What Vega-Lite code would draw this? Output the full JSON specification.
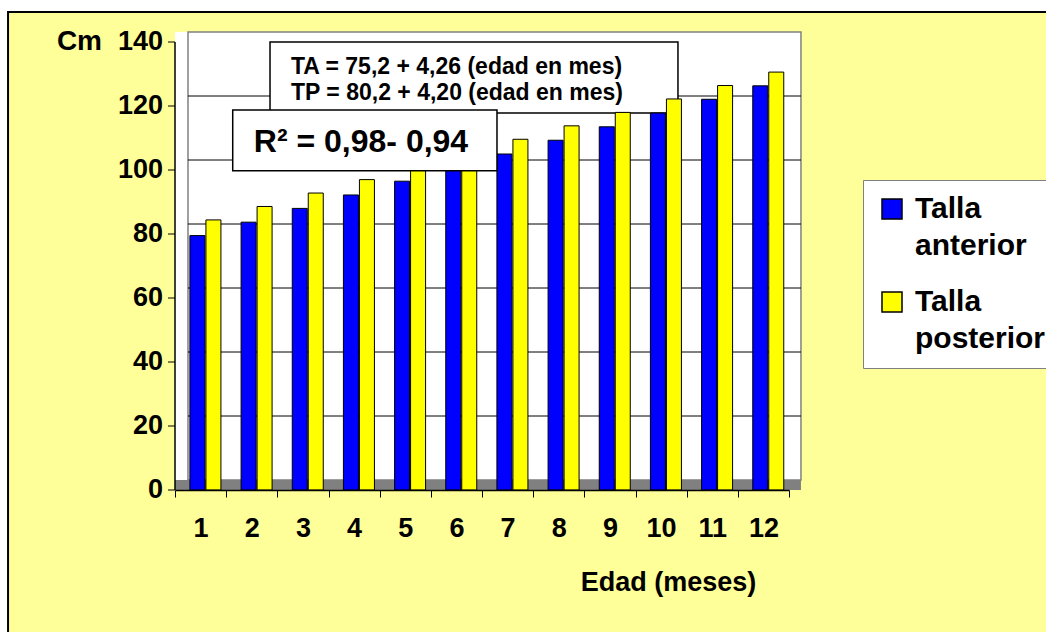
{
  "$schema": "https://vega.github.io/schema/vega-lite/v6.json",
  "width": 628,
  "height": 458,
  "autosize": "none",
  "padding": {"left": 175, "top": 32, "right": 243, "bottom": 142},
  "background": "white",
  "config": {
    "view": {"stroke": null},
    "font": "Liberation Sans",
    "text": {"font": "Liberation Sans", "fontWeight": "bold", "color": "black"}
  },
  "datasets": {
    "tallas": [
      {"mes": 1, "serie": "Talla anterior", "talla": 79.5},
      {"mes": 1, "serie": "Talla posterior", "talla": 84.4},
      {"mes": 2, "serie": "Talla anterior", "talla": 83.7},
      {"mes": 2, "serie": "Talla posterior", "talla": 88.6},
      {"mes": 3, "serie": "Talla anterior", "talla": 88.0},
      {"mes": 3, "serie": "Talla posterior", "talla": 92.8},
      {"mes": 4, "serie": "Talla anterior", "talla": 92.2},
      {"mes": 4, "serie": "Talla posterior", "talla": 97.0},
      {"mes": 5, "serie": "Talla anterior", "talla": 96.5},
      {"mes": 5, "serie": "Talla posterior", "talla": 101.2},
      {"mes": 6, "serie": "Talla anterior", "talla": 100.8},
      {"mes": 6, "serie": "Talla posterior", "talla": 105.4},
      {"mes": 7, "serie": "Talla anterior", "talla": 105.0},
      {"mes": 7, "serie": "Talla posterior", "talla": 109.6},
      {"mes": 8, "serie": "Talla anterior", "talla": 109.3},
      {"mes": 8, "serie": "Talla posterior", "talla": 113.8},
      {"mes": 9, "serie": "Talla anterior", "talla": 113.5},
      {"mes": 9, "serie": "Talla posterior", "talla": 118.0},
      {"mes": 10, "serie": "Talla anterior", "talla": 117.8},
      {"mes": 10, "serie": "Talla posterior", "talla": 122.2},
      {"mes": 11, "serie": "Talla anterior", "talla": 122.1},
      {"mes": 11, "serie": "Talla posterior", "talla": 126.4},
      {"mes": 12, "serie": "Talla anterior", "talla": 126.3},
      {"mes": 12, "serie": "Talla posterior", "talla": 130.6}
    ],
    "grid": [{"v": 20}, {"v": 40}, {"v": 60}, {"v": 80}, {"v": 100}, {"v": 120}],
    "marcas": [{"v": 0}, {"v": 20}, {"v": 40}, {"v": 60}, {"v": 80}, {"v": 100}, {"v": 120}, {"v": 140}],
    "uno": [{}]
  },
  "layer": [
    {
      "data": {"name": "uno"},
      "layer": [
        {
          "mark": {"type": "rect", "fill": "#FFFF99", "stroke": "black", "strokeWidth": 2},
          "encoding": {
            "x": {"datum": -3.263, "type": "quantitative", "scale": {"domain": [0, 12], "range": [0, 614]}, "axis": null},
            "x2": {"datum": 30},
            "y": {"datum": 149.375, "type": "quantitative", "scale": {"domain": [0, 143.125], "nice": false, "zero": false}, "axis": null},
            "y2": {"datum": -80}
          }
        },
        {
          "mark": {"type": "rect", "fill": "white"},
          "encoding": {
            "x": {"datum": 0, "type": "quantitative", "axis": null},
            "x2": {"datum": 12.234},
            "y": {"datum": 0, "type": "quantitative", "axis": null},
            "y2": {"datum": 143.125}
          }
        },
        {
          "mark": {"type": "rect", "fill": "#808080"},
          "encoding": {
            "x": {"datum": 0, "type": "quantitative", "axis": null},
            "x2": {"datum": 12.234},
            "y": {"datum": 0, "type": "quantitative", "axis": null},
            "y2": {"datum": 3.125}
          }
        },
        {
          "mark": {"type": "rect", "fill": null, "fillOpacity": 0, "stroke": "#808080", "strokeWidth": 1.5},
          "encoding": {
            "x": {"datum": 0.254, "type": "quantitative", "axis": null},
            "x2": {"datum": 12.234},
            "y": {"datum": 3.125, "type": "quantitative", "axis": null},
            "y2": {"datum": 143.125}
          }
        },
        {
          "mark": {"type": "rule", "color": "black", "strokeWidth": 1.5},
          "encoding": {
            "x": {"datum": 0, "type": "quantitative", "axis": null},
            "y": {"datum": 0, "type": "quantitative", "axis": null},
            "y2": {"datum": 140}
          }
        }
      ]
    },
    {
      "data": {"name": "grid"},
      "mark": {"type": "rule", "color": "black", "strokeWidth": 1, "yOffset": -10},
      "encoding": {
        "x": {"datum": 0.254, "type": "quantitative", "scale": {"domain": [0, 12], "range": [0, 614]}, "axis": null},
        "x2": {"datum": 12.234},
        "y": {"field": "v", "type": "quantitative", "axis": null}
      }
    },
    {
      "data": {"name": "marcas"},
      "layer": [
        {
          "mark": {"type": "rule", "color": "black", "strokeWidth": 1, "xOffset": -7},
          "encoding": {
            "x": {"datum": 0, "type": "quantitative", "scale": {"domain": [0, 12], "range": [0, 614]}, "axis": null},
            "x2": {"datum": 0},
            "y": {"field": "v", "type": "quantitative", "axis": null}
          }
        },
        {
          "mark": {"type": "text", "align": "right", "baseline": "middle", "fontSize": 27, "xOffset": -12},
          "encoding": {
            "x": {"datum": 0, "type": "quantitative", "axis": null},
            "y": {"field": "v", "type": "quantitative", "axis": null},
            "text": {"field": "v", "type": "quantitative"}
          }
        }
      ]
    },
    {
      "data": {"name": "uno"},
      "layer": [
        {
          "mark": {"type": "text", "text": "Cm", "align": "right", "baseline": "alphabetic", "fontSize": 28, "xOffset": -73, "yOffset": 8},
          "encoding": {
            "x": {"datum": 0, "type": "quantitative", "scale": {"domain": [0, 12], "range": [0, 614]}, "axis": null},
            "y": {"datum": 140, "type": "quantitative", "axis": null}
          }
        },
        {
          "mark": {"type": "rect", "fill": "white", "stroke": "black", "strokeWidth": 1.5},
          "encoding": {
            "x": {"datum": 1.857, "type": "quantitative", "axis": null},
            "x2": {"datum": 9.83},
            "y": {"datum": 117.8, "type": "quantitative", "axis": null},
            "y2": {"datum": 140}
          }
        },
        {
          "mark": {"type": "text", "text": "TA = 75,2 + 4,26 (edad en mes)", "align": "left", "baseline": "alphabetic", "fontSize": 23},
          "encoding": {
            "x": {"datum": 2.267, "type": "quantitative", "axis": null},
            "y": {"datum": 130, "type": "quantitative", "axis": null}
          }
        },
        {
          "mark": {"type": "text", "text": "TP = 80,2 + 4,20 (edad en mes)", "align": "left", "baseline": "alphabetic", "fontSize": 23},
          "encoding": {
            "x": {"datum": 2.267, "type": "quantitative", "axis": null},
            "y": {"datum": 121.9, "type": "quantitative", "axis": null}
          }
        }
      ]
    },
    {
      "data": {"name": "tallas"},
      "mark": {"type": "bar", "stroke": "black", "strokeWidth": 1},
      "encoding": {
        "x": {
          "field": "mes",
          "type": "ordinal",
          "scale": {"range": [0, 614], "paddingInner": 0, "paddingOuter": 0},
          "axis": {
            "zindex": 2,
            "orient": "bottom",
            "title": "Edad (meses)",
            "titleX": 493,
            "titleY": 100,
            "titleAlign": "center",
            "titleAnchor": null,
            "titleBaseline": "alphabetic",
            "titleFontSize": 27,
            "titleFontWeight": "bold",
            "titleColor": "black",
            "labelAngle": 0,
            "labelFontSize": 27,
            "labelFontWeight": "bold",
            "labelColor": "black",
            "labelBaseline": "alphabetic",
            "labelPadding": 39,
            "tickSize": 7,
            "tickBand": "extent",
            "tickColor": "black",
            "domainColor": "black",
            "domainWidth": 1.5,
            "grid": false
          }
        },
        "xOffset": {
          "field": "serie",
          "type": "nominal",
          "sort": ["Talla anterior", "Talla posterior"],
          "scale": {"paddingInner": 0.0625, "paddingOuter": 0.63, "align": 0.74}
        },
        "y": {"field": "talla", "type": "quantitative", "axis": null},
        "color": {
          "field": "serie",
          "type": "nominal",
          "scale": {"domain": ["Talla anterior", "Talla posterior"], "range": ["#0000FF", "#FFFF00"]},
          "legend": {
            "title": null,
            "orient": "none",
            "legendX": 688,
            "legendY": 148,
            "fillColor": "white",
            "strokeColor": "#808080",
            "padding": 14,
            "symbolType": "square",
            "symbolSize": 400,
            "symbolStrokeColor": "black",
            "symbolStrokeWidth": 1.5,
            "symbolOpacity": 1,
            "labelFontSize": 30,
            "labelFontWeight": "bold",
            "labelColor": "black",
            "labelOffset": 8,
            "labelLimit": 0,
            "labelBaseline": "middle",
            "labelExpr": "split(datum.label, ' ')",
            "rowPadding": 26,
            "encoding": {
              "labels": {"lineHeight": {"value": 37}}
            }
          }
        }
      }
    },
    {
      "data": {"name": "uno"},
      "layer": [
        {
          "mark": {"type": "rect", "fill": "white", "stroke": "black", "strokeWidth": 1.5},
          "encoding": {
            "x": {"datum": 1.128, "type": "quantitative", "scale": {"domain": [0, 12], "range": [0, 614]}, "axis": null},
            "x2": {"datum": 6.293},
            "y": {"datum": 99.78, "type": "quantitative", "axis": null},
            "y2": {"datum": 118.75}
          }
        },
        {
          "mark": {"type": "text", "text": "R² = 0,98- 0,94", "align": "center", "baseline": "alphabetic", "fontSize": 32},
          "encoding": {
            "x": {"datum": 3.635, "type": "quantitative", "axis": null},
            "y": {"datum": 105.7, "type": "quantitative", "axis": null}
          }
        }
      ]
    }
  ],
  "resolve": {"scale": {"x": "independent"}, "axis": {"x": "independent"}}
}
